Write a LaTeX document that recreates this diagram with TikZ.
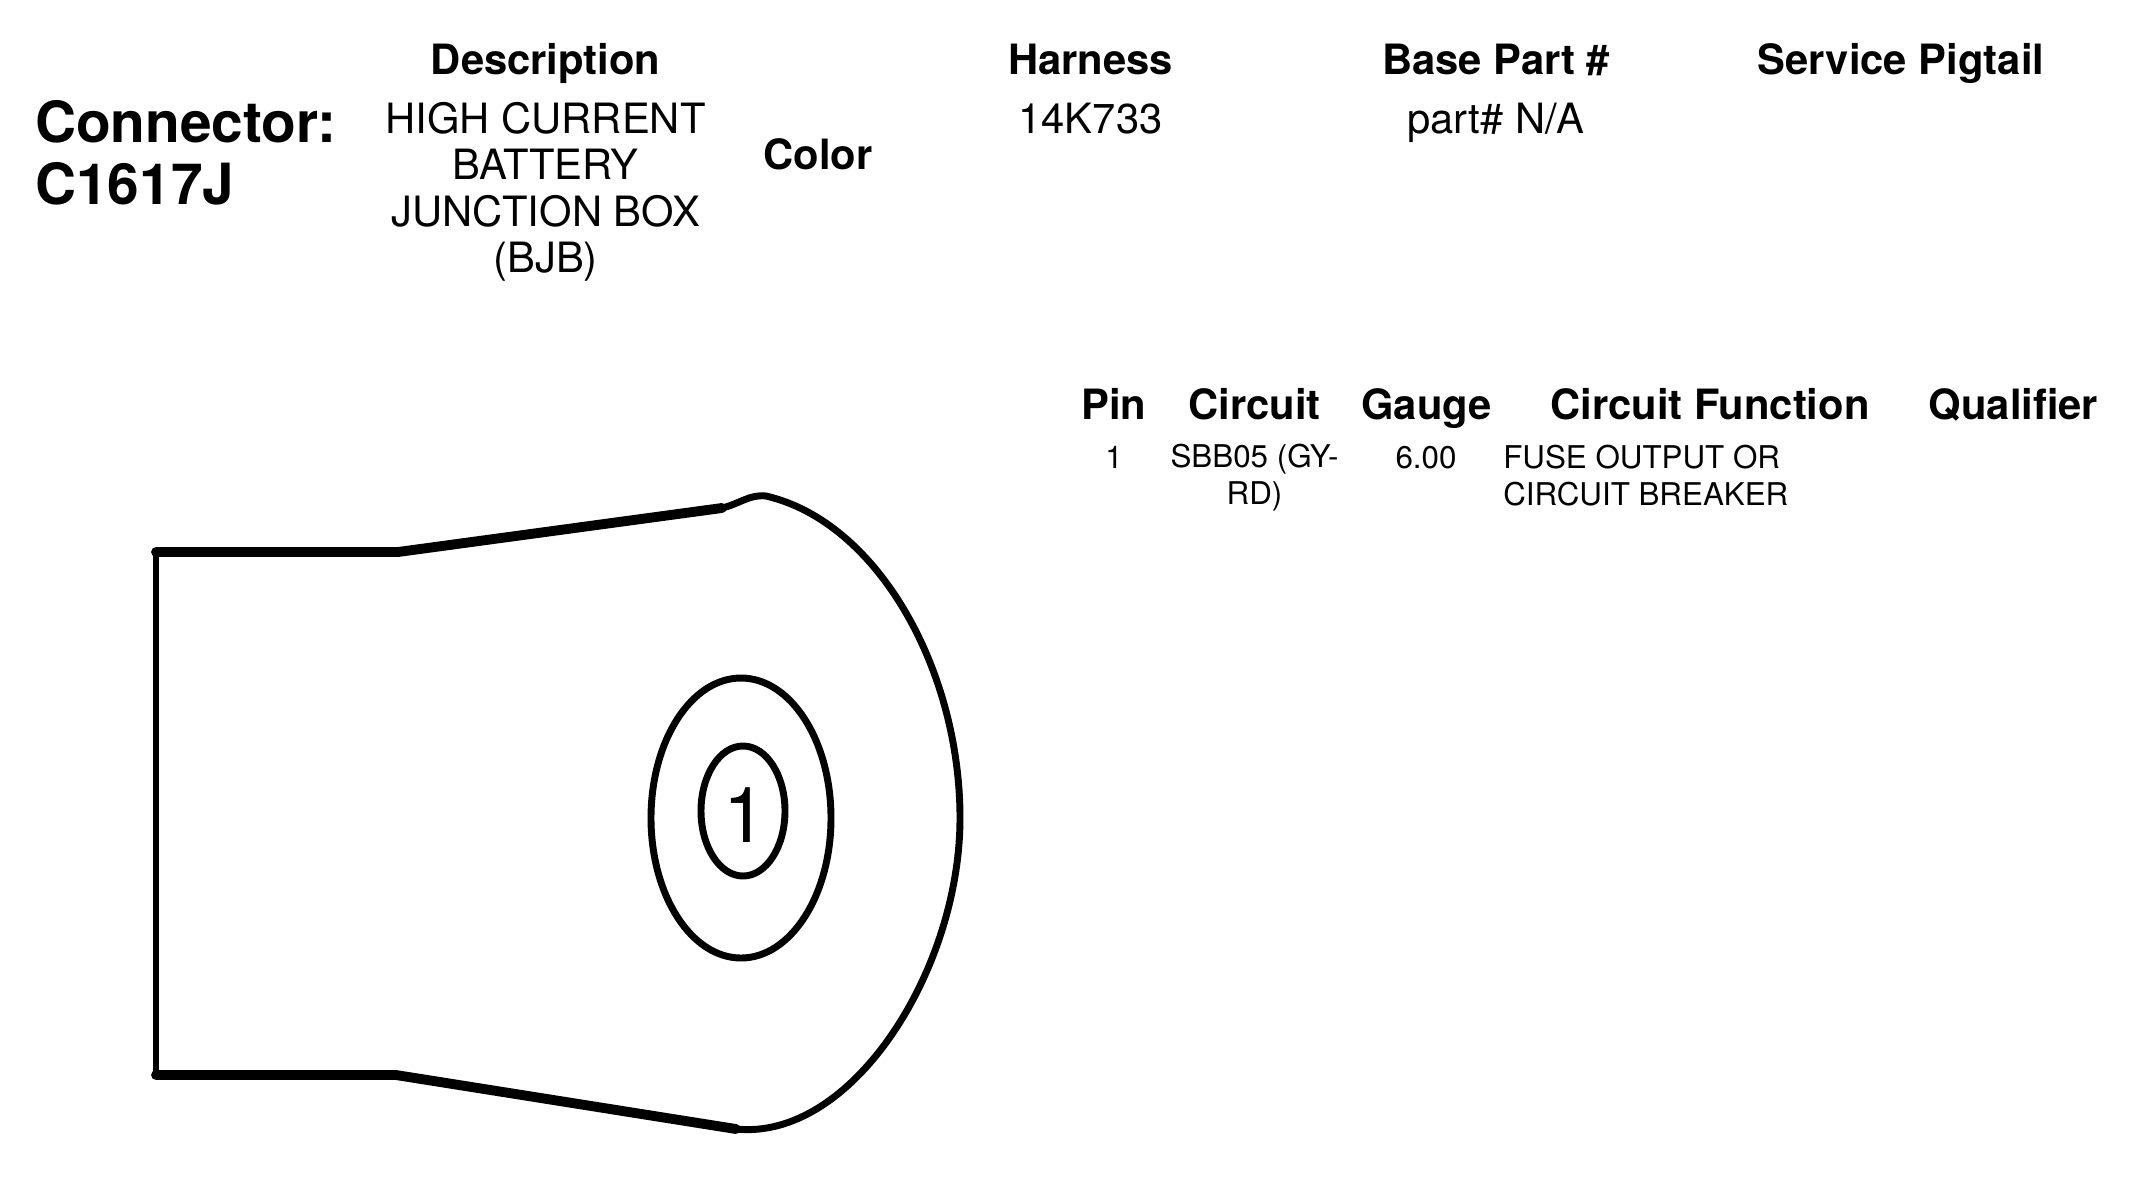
\documentclass[tikz,border=0pt]{standalone}
\usepackage{fontspec}
\setmainfont{TeX Gyre Heros}
\tikzset{
  headlabel/.style={anchor=base,inner sep=0pt,font=\fontsize{31.3}{35}\bfseries},
  bodylabel/.style={inner sep=0pt,font=\fontsize{31.3}{34.9}\selectfont,align=center},
  celllabel/.style={inner sep=0pt,font=\fontsize{23.5}{27.7}\selectfont,align=center},
  thickline/.style={line width=7.4pt,line cap=round},
  outline/.style={line width=5.2pt},
}
\begin{document}
\begin{tikzpicture}[x=0.75pt,y=0.75pt,yscale=-1,xscale=1]
    \useasboundingbox (0,0) rectangle (2134,1193);

    % Connector body
    \draw [thickline] (156,552) -- (398,552) -- (722,508);
    \draw [thickline] (156,1075) -- (396,1075) -- (736,1129);
    \draw [outline] (156,552) -- (156,1075);
    \draw [outline] (722,508) .. controls (739,504) and (750,494) .. (766,496) .. controls (878,522) and (960,670) .. (960,818) .. controls (960,970) and (852,1141) .. (736,1129);

    % Cavity
    \draw [outline] (741,818) ellipse (90 and 140);
    \draw [outline] (743,811) ellipse (42 and 65);
    \node (pinmark) [inner sep=0pt,font=\fontsize{58}{60}\selectfont] at (745,815) {1};

    % Title
    \node (title) [anchor=west,inner sep=0pt,align=left,font=\fontsize{42.6}{46.2}\bfseries] at (35,153) {Connector:\\C1617J};

    % Header row
    \node (description) [headlabel] at (545.6,74) {Description};
    \node (harness) [headlabel] at (1090.5,74) {Harness};
    \node (basepart) [headlabel] at (1496,74) {Base Part \#};
    \node (pigtail) [headlabel] at (1901,74) {Service Pigtail};
    \node (color) [headlabel] at (818,169) {Color};

    % Header values
    \node (descvalue) [bodylabel] at (545.6,192) {HIGH CURRENT\\BATTERY\\JUNCTION BOX\\(BJB)};
    \node (harnessvalue) [bodylabel,anchor=base] at (1090.5,133) {14K733};
    \node (partvalue) [bodylabel,anchor=base] at (1496,133) {part\# N/A};

    % Pin table
    \node (pinhead) [headlabel] at (1114,419) {Pin};
    \node (circuithead) [headlabel] at (1254.5,419) {Circuit};
    \node (gaugehead) [headlabel] at (1426.6,419) {Gauge};
    \node (functionhead) [headlabel] at (1710,419) {Circuit Function};
    \node (qualifierhead) [headlabel] at (2013.5,419) {Qualifier};

    \node (pincell) [celllabel,anchor=base] at (1114,468) {1};
    \node (circuitcell) [celllabel] at (1254.5,478) {SBB05 (GY-\\RD)};
    \node (gaugecell) [celllabel,anchor=base] at (1426,468) {6.00};
    \node (functioncell) [celllabel,anchor=west,align=left] at (1503,476) {FUSE OUTPUT OR\\CIRCUIT BREAKER};

\end{tikzpicture}
\end{document}
